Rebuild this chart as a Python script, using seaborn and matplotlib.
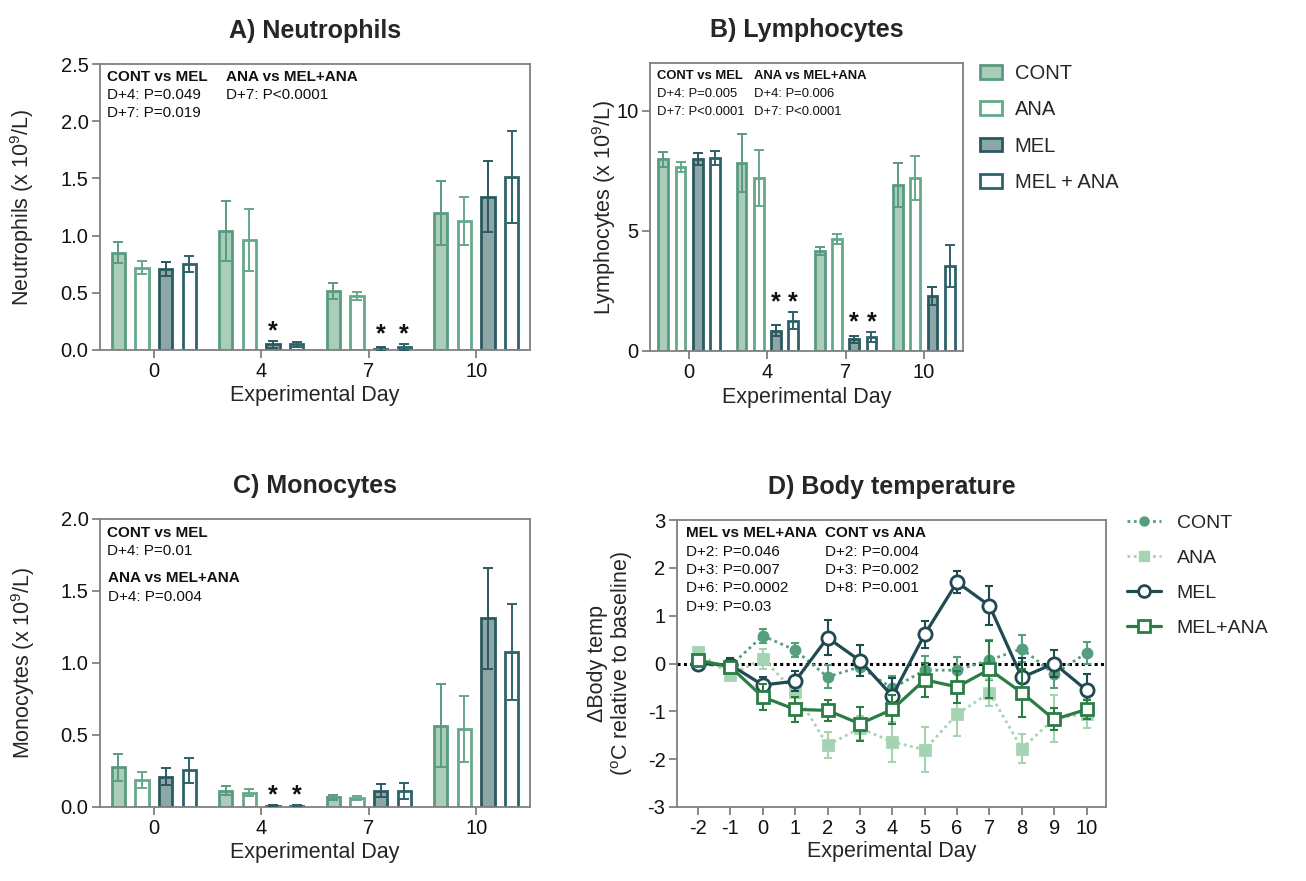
import numpy as np
import pandas as pd
import matplotlib
matplotlib.use("Agg")
import matplotlib.pyplot as plt
import seaborn as sns
from matplotlib.patches import Patch
from matplotlib.lines import Line2D

sns.set_theme(style="ticks")
plt.rcParams['font.family'] = ['Liberation Sans', 'DejaVu Sans']
plt.rcParams['mathtext.fontset'] = 'custom'
plt.rcParams['mathtext.rm'] = 'Liberation Sans'
plt.rcParams['axes.unicode_minus'] = False

# ---- data ----
days = ["0", "4", "7", "10"]
groups = ["CONT", "ANA", "MEL", "MEL + ANA"]

# rows: CONT, ANA, MEL, MEL+ANA ; columns: day 0, 4, 7, 10
neut_mean = [[0.85, 1.04, 0.52, 1.20],
             [0.72, 0.96, 0.475, 1.13],
             [0.71, 0.05, 0.01, 1.34],
             [0.75, 0.05, 0.025, 1.51]]
neut_sem = [[0.09, 0.26, 0.07, 0.28],
            [0.06, 0.27, 0.035, 0.21],
            [0.06, 0.03, 0.02, 0.31],
            [0.07, 0.02, 0.025, 0.40]]

lymph_mean = [[7.99, 7.85, 4.18, 6.92],
              [7.68, 7.21, 4.67, 7.22],
              [8.00, 0.85, 0.49, 2.29],
              [8.03, 1.26, 0.57, 3.54]]
lymph_sem = [[0.31, 1.21, 0.17, 0.93],
             [0.21, 1.18, 0.22, 0.91],
             [0.26, 0.23, 0.14, 0.39],
             [0.30, 0.35, 0.21, 0.89]]

mono_mean = [[0.275, 0.113, 0.067, 0.565],
             [0.185, 0.100, 0.062, 0.54],
             [0.21, 0.010, 0.113, 1.31],
             [0.255, 0.008, 0.113, 1.076]]
mono_sem = [[0.093, 0.030, 0.018, 0.29],
            [0.055, 0.025, 0.016, 0.23],
            [0.06, 0.005, 0.047, 0.35],
            [0.085, 0.004, 0.054, 0.335]]

# significance stars (day, group)
neut_stars = [("4", "MEL"), ("7", "MEL"), ("7", "MEL + ANA")]
lymph_stars = [("4", "MEL"), ("4", "MEL + ANA"), ("7", "MEL"), ("7", "MEL + ANA")]
mono_stars = [("4", "MEL"), ("4", "MEL + ANA")]

temp_days = [-2, -1, 0, 1, 2, 3, 4, 5, 6, 7, 8, 9, 10]
cont_mean = [-0.02, -0.05, 0.58, 0.28, -0.28, -0.07, -0.52, -0.14, -0.14, 0.07, 0.31, -0.22, 0.22]
cont_sem = [0.12, 0.10, 0.15, 0.14, 0.24, 0.20, 0.25, 0.30, 0.28, 0.42, 0.28, 0.30, 0.22]
ana_mean = [0.24, -0.24, 0.10, -0.60, -1.71, -1.35, -1.64, -1.80, -1.06, -0.61, -1.78, -1.15, -1.05]
ana_sem = [0.10, 0.10, 0.21, 0.25, 0.27, 0.25, 0.42, 0.47, 0.45, 0.28, 0.30, 0.50, 0.30]
mel_mean = [0.0, -0.03, -0.45, -0.37, 0.54, 0.06, -0.68, 0.61, 1.70, 1.21, -0.29, 0.0, -0.56]
mel_sem = [0.13, 0.15, 0.17, 0.21, 0.37, 0.32, 0.37, 0.28, 0.23, 0.40, 0.40, 0.28, 0.35]
melana_mean = [0.07, -0.07, -0.70, -0.96, -0.98, -1.26, -0.96, -0.34, -0.49, -0.125, -0.61, -1.17, -0.96]
melana_sem = [0.08, 0.12, 0.27, 0.27, 0.22, 0.35, 0.30, 0.35, 0.33, 0.60, 0.50, 0.23, 0.20]

# ---- style ----
face = ["#a9cdb9", "#ffffff", "#8ca7a7", "#ffffff"]
edge = ["#5a9b80", "#66a88a", "#2b5960", "#2e626a"]
c_cont, c_ana, c_mel, c_melana = "#559e7e", "#a5d4b3", "#1f4a52", "#2b7d45"
spine_c = "#808080"
W, H = 1306, 881


def axes_px(l, r, t, b):
    return [l / W, 1 - b / H, (r - l) / W, (b - t) / H]


fig = plt.figure(figsize=(W / 100, H / 100), dpi=100)
axA = fig.add_axes(axes_px(100, 530, 64, 350))
axB = fig.add_axes(axes_px(650, 963, 63, 351))
axC = fig.add_axes(axes_px(100, 530, 519, 807))
axD = fig.add_axes(axes_px(677, 1106, 520, 807))


def frame(ax):
    for s in ax.spines.values():
        s.set_color(spine_c)
        s.set_linewidth(1.3)
    ax.tick_params(axis="both", length=5.8, width=1.3, color=spine_c,
                   labelsize=14.5, labelcolor="#111111", pad=2.5)


def bar_panel(ax, means, sems, stars, ylim, yticks, fmt):
    rows = []
    for g, m in zip(groups, means):
        for d, v in zip(days, m):
            rows.append({"day": d, "group": g, "value": v})
    df = pd.DataFrame(rows)
    sns.barplot(data=df, x="day", y="value", hue="group", order=days,
                hue_order=groups, width=0.88, gap=0.44, errorbar=None,
                legend=False, ax=ax, zorder=2)
    bar_conts = list(ax.containers)
    tops = {}
    for i, cont in enumerate(bar_conts):
        for j, bar in enumerate(cont):
            bar.set_facecolor(face[i])
            bar.set_edgecolor(edge[i])
            bar.set_linewidth(2.0)
            x = bar.get_x() + bar.get_width() / 2
            ax.errorbar(x, means[i][j], yerr=sems[i][j], fmt="none",
                        ecolor=edge[i], elinewidth=1.4, capsize=3.6,
                        capthick=1.4, zorder=3)
            tops[(days[j], groups[i])] = (x, means[i][j] + sems[i][j])
    for d, g in stars:
        x = tops[(d, g)][0]
        ymax = max(tops[(d, gg)][1] for dd, gg in stars if dd == d)
        ax.annotate("*", xy=(x, ymax), xytext=(0, 2), textcoords="offset points",
                    ha="center", va="baseline", fontsize=18, fontweight="bold",
                    color="#111111")
    ax.set_xlim(-0.5, 3.5)
    ax.set_ylim(*ylim)
    ax.set_yticks(yticks)
    ax.set_yticklabels([fmt.format(v) for v in yticks])
    frame(ax)


def notes(ax, x, lines, top_px, step_px=18, size=11):
    for k, (txt, bold) in enumerate(lines):
        ax.annotate(txt, xy=(x, 1), xycoords="axes fraction",
                    xytext=(0, -(top_px + k * step_px) * 0.72),
                    textcoords="offset points", va="center", ha="left",
                    fontsize=size, fontweight="bold" if bold else "normal",
                    color="#111111")


# ---- A) Neutrophils ----
bar_panel(axA, neut_mean, neut_sem, neut_stars, (0, 2.5),
          [0, 0.5, 1.0, 1.5, 2.0, 2.5], "{:.1f}")
axA.set_title("A) Neutrophils", fontsize=18, fontweight="bold", pad=19)
axA.set_ylabel("Neutrophils (x 10$^{9}$/L)", fontsize=15.5)
axA.set_xlabel("Experimental Day", fontsize=15.5)
axA.yaxis.set_label_coords(-0.148, 0.5)
axA.xaxis.set_label_coords(0.5, -0.124)
notes(axA, 0.016, [("CONT vs MEL", True), ("D+4: P=0.049", False), ("D+7: P=0.019", False)], 13)
notes(axA, 0.293, [("ANA vs MEL+ANA", True), ("D+7: P<0.0001", False)], 13)

# ---- B) Lymphocytes ----
bar_panel(axB, lymph_mean, lymph_sem, lymph_stars, (0, 12), [0, 5, 10], "{:.0f}")
axB.set_title("B) Lymphocytes", fontsize=18, fontweight="bold", pad=19)
axB.set_ylabel("Lymphocytes (x 10$^{9}$/L)", fontsize=15.5)
axB.set_xlabel("Experimental Day", fontsize=15.5)
axB.yaxis.set_label_coords(-0.102, 0.5)
axB.xaxis.set_label_coords(0.5, -0.124)
notes(axB, 0.022, [("CONT vs MEL", True), ("D+4: P=0.005", False), ("D+7: P<0.0001", False)], 13,
      size=9.4)
notes(axB, 0.332, [("ANA vs MEL+ANA", True), ("D+4: P=0.006", False), ("D+7: P<0.0001", False)], 13,
      size=9.4)

bar_handles = [Patch(facecolor=face[i], edgecolor=edge[i], linewidth=2.0) for i in range(4)]
fig.legend(bar_handles, groups, loc="upper left", bbox_to_anchor=(980 / W, 1 - 64 / H),
           frameon=False, borderpad=0, borderaxespad=0, handlelength=1.1,
           handleheight=0.66, handletextpad=0.62, labelspacing=0.86,
           prop={"size": 14.5})

# ---- C) Monocytes ----
bar_panel(axC, mono_mean, mono_sem, mono_stars, (0, 2.0),
          [0, 0.5, 1.0, 1.5, 2.0], "{:.1f}")
axC.set_title("C) Monocytes", fontsize=18, fontweight="bold", pad=19)
axC.set_ylabel("Monocytes (x 10$^{9}$/L)", fontsize=15.5)
axC.set_xlabel("Experimental Day", fontsize=15.5)
axC.yaxis.set_label_coords(-0.146, 0.5)
axC.xaxis.set_label_coords(0.5, -0.12)
notes(axC, 0.016, [("CONT vs MEL", True), ("D+4: P=0.01", False)], 14)
notes(axC, 0.019, [("ANA vs MEL+ANA", True), ("D+4: P=0.004", False)], 59, step_px=19)

# ---- D) Body temperature ----
axD.axhline(0, color="black", linestyle=(0, (1, 1.1)), linewidth=2.2, zorder=1)
series = [
    (cont_mean, cont_sem, c_cont, (0, (1, 1.3)), "o", 6.5, c_cont, 2.0),
    (ana_mean, ana_sem, c_ana, (0, (1, 1.3)), "s", 6.5, c_ana, 2.0),
    (mel_mean, mel_sem, c_mel, "-", "o", 9.5, "white", 2.3),
    (melana_mean, melana_sem, c_melana, "-", "s", 9.0, "white", 2.3),
]
for k, (m, s, c, ls, mk, ms, mfc, lw) in enumerate(series):
    axD.errorbar(temp_days, m, yerr=s, fmt="none", ecolor=c, elinewidth=1.5,
                 capsize=2.9, capthick=1.5, zorder=2 + k)
    sns.lineplot(x=temp_days, y=m, ax=axD, color=c, linestyle=ls, linewidth=lw,
                 marker=mk, markersize=ms, markerfacecolor=mfc, markeredgecolor=c,
                 markeredgewidth=2.0, zorder=2.5 + k)
axD.set_xlim(-2.65, 10.6)
axD.set_ylim(-3, 3)
axD.set_xticks(temp_days)
axD.set_yticks([-3, -2, -1, 0, 1, 2, 3])
frame(axD)
axD.set_title("D) Body temperature", fontsize=18, fontweight="bold", pad=19)
axD.set_ylabel("ΔBody temp\n($^{\\mathrm{o}}$C relative to baseline)", fontsize=15.5,
               linespacing=1.05)
axD.set_xlabel("Experimental Day", fontsize=15.5)
axD.yaxis.set_label_coords(-0.098, 0.5)
axD.xaxis.set_label_coords(0.5, -0.12)
notes(axD, 0.021, [("MEL vs MEL+ANA", True), ("D+2: P=0.046", False), ("D+3: P=0.007", False),
                   ("D+6: P=0.0002", False), ("D+9: P=0.03", False)], 13, step_px=18.5)
notes(axD, 0.345, [("CONT vs ANA", True), ("D+2: P=0.004", False), ("D+3: P=0.002", False),
                   ("D+8: P=0.001", False)], 13, step_px=18.5)

line_handles = [
    Line2D([], [], color=c_cont, linestyle=(0, (1, 1.3)), linewidth=2.0, marker="o",
           markersize=6.5, markerfacecolor=c_cont, markeredgecolor=c_cont),
    Line2D([], [], color=c_ana, linestyle=(0, (1, 1.3)), linewidth=2.0, marker="s",
           markersize=6.5, markerfacecolor=c_ana, markeredgecolor=c_ana),
    Line2D([], [], color=c_mel, linestyle="-", linewidth=2.3, marker="o",
           markersize=8.5, markerfacecolor="white", markeredgecolor=c_mel, markeredgewidth=2.0),
    Line2D([], [], color=c_melana, linestyle="-", linewidth=2.3, marker="s",
           markersize=8, markerfacecolor="white", markeredgecolor=c_melana, markeredgewidth=2.0),
]
fig.legend(line_handles, ["CONT", "ANA", "MEL", "MEL+ANA"], loc="upper left",
           bbox_to_anchor=(1127 / W, 1 - 514 / H), frameon=False, borderpad=0,
           borderaxespad=0, handlelength=1.75, handletextpad=0.8, labelspacing=0.9,
           prop={"size": 14})

fig.savefig("out.png", dpi=100)
